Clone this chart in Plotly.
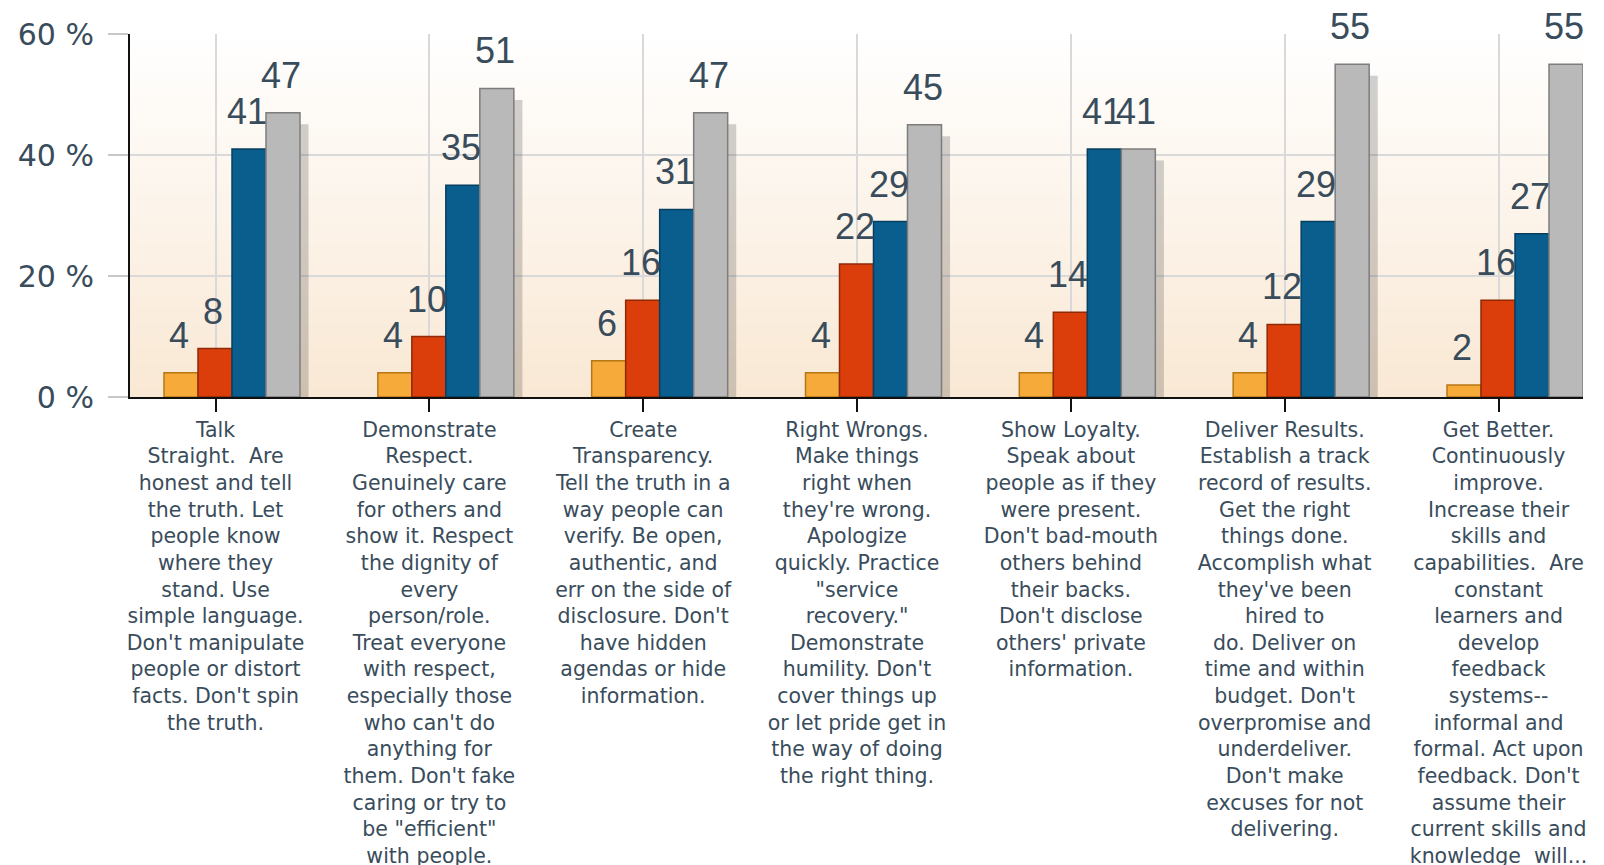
import base64
import struct
import zlib
import plotly.graph_objects as go

categories = [
    "Talk<br>Straight.  Are<br>honest and tell<br>the truth. Let<br>people know<br>where they<br>stand. Use<br>simple language.<br>Don't manipulate<br>people or distort<br>facts. Don't spin<br>the truth.",
    "Demonstrate<br>Respect.<br>Genuinely care<br>for others and<br>show it. Respect<br>the dignity of<br>every<br>person/role.<br>Treat everyone<br>with respect,<br>especially those<br>who can't do<br>anything for<br>them. Don't fake<br>caring or try to<br>be \"efficient\"<br>with people.",
    "Create<br>Transparency.<br>Tell the truth in a<br>way people can<br>verify. Be open,<br>authentic, and<br>err on the side of<br>disclosure. Don't<br>have hidden<br>agendas or hide<br>information.",
    "Right Wrongs.<br>Make things<br>right when<br>they're wrong.<br>Apologize<br>quickly. Practice<br>\"service<br>recovery.\"<br>Demonstrate<br>humility. Don't<br>cover things up<br>or let pride get in<br>the way of doing<br>the right thing.",
    "Show Loyalty.<br>Speak about<br>people as if they<br>were present.<br>Don't bad-mouth<br>others behind<br>their backs.<br>Don't disclose<br>others' private<br>information.",
    "Deliver Results.<br>Establish a track<br>record of results.<br>Get the right<br>things done.<br>Accomplish what<br>they've been<br>hired to<br>do. Deliver on<br>time and within<br>budget. Don't<br>overpromise and<br>underdeliver.<br>Don't make<br>excuses for not<br>delivering.",
    "Get Better.<br>Continuously<br>improve.<br>Increase their<br>skills and<br>capabilities.  Are<br>constant<br>learners and<br>develop<br>feedback<br>systems--<br>informal and<br>formal. Act upon<br>feedback. Don't<br>assume their<br>current skills and<br>knowledge  will...",
]

series_orange = [4, 4, 6, 4, 4, 4, 2]
series_red = [8, 10, 16, 22, 14, 12, 16]
series_blue = [41, 35, 31, 29, 41, 29, 27]
series_gray = [47, 51, 47, 45, 41, 55, 55]

y_tick_vals = [0, 20, 40, 60]
y_tick_text = ["0 %", "20 %", "40 %", "60 %"]

# ---- styling ----
fills = ["#f5aa3a", "#dc3e0b", "#0a5e8e", "#b9b9b9"]
borders = ["#b77716", "#8f2906", "#073f60", "#7d7d7d"]
text_color = "#394c5b"
bar_w = 0.159
group_start = -0.318
tick_shift = -0.077
x_range = [-0.477, 6.318]


def gradient_png(top, bottom, h=128):
    rows = b""
    for r in range(h):
        t = r / (h - 1)
        px = bytes(int(round(top[c] + (bottom[c] - top[c]) * t)) for c in range(3))
        rows += b"\x00" + px
    def chunk(tag, data):
        c = struct.pack(">I", len(data)) + tag + data
        return c + struct.pack(">I", zlib.crc32(tag + data) & 0xFFFFFFFF)
    png = b"\x89PNG\r\n\x1a\n"
    png += chunk(b"IHDR", struct.pack(">IIBBBBB", 1, h, 8, 2, 0, 0, 0))
    png += chunk(b"IDAT", zlib.compress(rows))
    png += chunk(b"IEND", b"")
    return "data:image/png;base64," + base64.b64encode(png).decode()


fig = go.Figure()
all_series = [series_orange, series_red, series_blue, series_gray]
xs = list(range(len(categories)))

# soft shadows
for k, vals in enumerate(all_series):
    fig.add_trace(go.Bar(
        x=xs, y=[v - 1.3 for v in vals], base=-0.6,
        width=bar_w, offset=group_start + k * bar_w + 0.04,
        marker=dict(color="rgba(50,50,50,0.22)", line=dict(width=0)),
        hoverinfo="skip", showlegend=False,
    ))

for k, vals in enumerate(all_series):
    fig.add_trace(go.Bar(
        x=xs, y=vals, width=bar_w, offset=group_start + k * bar_w,
        marker=dict(color=fills[k], line=dict(color=borders[k], width=1.5)),
        showlegend=False,
    ))

annotations = []
for k, vals in enumerate(all_series):
    for i, v in enumerate(vals):
        annotations.append(dict(
            x=i + group_start + k * bar_w + bar_w / 2, y=v, text=str(v),
            showarrow=False, yanchor="bottom", xanchor="center",
            yshift=15, xshift=-2,
            font=dict(family="Liberation Sans, Arial", size=36, color=text_color),
        ))

fig.update_layout(
    width=1604, height=865,
    margin=dict(l=122, r=29, t=26, b=476),
    paper_bgcolor="white",
    plot_bgcolor="rgba(0,0,0,0)",
    barmode="overlay",
    showlegend=False,
    annotations=annotations,
    images=[dict(
        source=gradient_png((255, 255, 255), (249, 232, 212)),
        xref="paper", yref="paper", x=0, y=1, sizex=1, sizey=1,
        xanchor="left", yanchor="top", sizing="stretch", layer="below",
    )],
    xaxis=dict(
        range=x_range,
        tickmode="array",
        tickvals=[i + tick_shift for i in xs],
        ticktext=categories,
        ticks="outside", ticklen=13, tickwidth=2, tickcolor="#111111",
        showgrid=True, gridcolor="#d9d9d9", gridwidth=1.5,
        showline=True, linecolor="#111111", linewidth=2,
        zeroline=False,
        tickangle=0,
        tickfont=dict(family="DejaVu Sans", size=20.5, color=text_color),
        automargin=False,
    ),
    yaxis=dict(
        range=[0, 60],
        tickmode="array",
        tickvals=y_tick_vals,
        ticktext=y_tick_text,
        ticks="outside", ticklen=20, tickwidth=1.5, tickcolor="#c8c8c8",
        showgrid=True, gridcolor="#d9d9d9", gridwidth=1.5,
        showline=True, linecolor="#111111", linewidth=2,
        zeroline=False,
        ticklabelstandoff=8,
        tickfont=dict(family="DejaVu Sans", size=30, color=text_color),
        automargin=False,
    ),
)

fig.write_html("out.html")
